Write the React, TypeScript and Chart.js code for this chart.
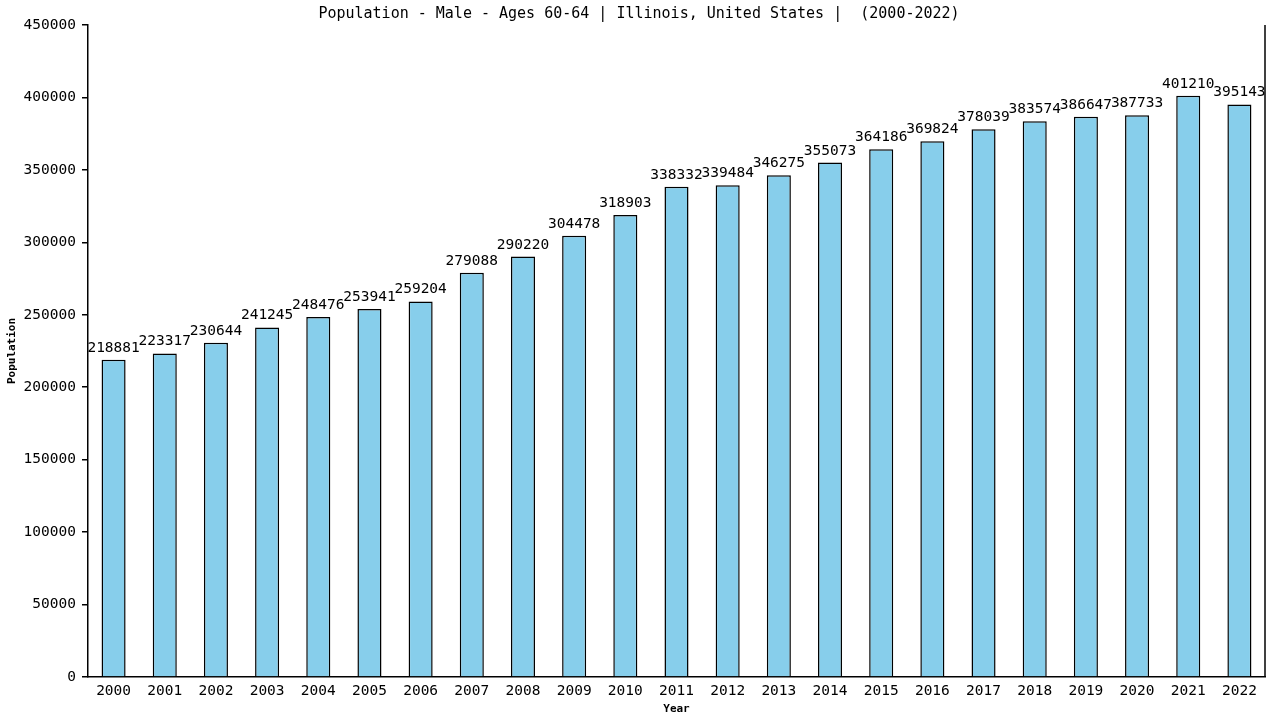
import React, { useEffect, useRef } from 'react';
import { Chart, registerables } from 'chart.js';

Chart.register(...registerables);

// data
const years: string[] = [
    '2000', '2001', '2002', '2003', '2004', '2005', '2006', '2007', '2008', '2009', '2010', '2011',
    '2012', '2013', '2014', '2015', '2016', '2017', '2018', '2019', '2020', '2021', '2022',
];
const population: number[] = [
    218881, 223317, 230644, 241245, 248476, 253941, 259204, 279088, 290220, 304478, 318903, 338332,
    339484, 346275, 355073, 364186, 369824, 378039, 383574, 386647, 387733, 401210, 395143,
];
const yMax = 450000;
const yStep = 50000;

const chartTitle = 'Population - Male - Ages 60-64 | Illinois, United States |  (2000-2022)';
const mono = "'DejaVu Sans Mono', monospace";

const App: React.FC = () => {
    const chartRef = useRef<HTMLCanvasElement | null>(null);

    useEffect(() => {
        document.body.style.margin = '0';
        const ctx = chartRef.current?.getContext('2d');
        if (!ctx) {
            return;
        }

        // title, right frame line and value labels
        const extras = {
            id: 'extras',
            afterDatasetsDraw(chart: any) {
                const c = chart.ctx;
                const area = chart.chartArea;
                c.save();
                c.strokeStyle = '#000';
                c.lineWidth = 1.5;
                c.beginPath();
                c.moveTo(area.right, area.top);
                c.lineTo(area.right, area.bottom);
                c.stroke();

                c.fillStyle = '#000';
                c.font = `14.5px ${mono}`;
                c.textAlign = 'center';
                c.textBaseline = 'alphabetic';
                const meta = chart.getDatasetMeta(0);
                meta.data.forEach((bar: any, i: number) => {
                    c.fillText(String(population[i]), bar.x, bar.y - 8);
                });

                c.font = `15px ${mono}`;
                c.fillText(chartTitle, 639, 18);
                c.restore();
            },
        };

        const myChart = new Chart(ctx, {
            type: 'bar',
            data: {
                labels: years,
                datasets: [
                    {
                        label: 'Population',
                        data: population,
                        backgroundColor: '#87CEEB',
                        borderColor: '#000000',
                        borderWidth: 1.5,
                        barPercentage: 0.47,
                        categoryPercentage: 1,
                    },
                ],
            },
            options: {
                responsive: false,
                animation: false,
                devicePixelRatio: 1,
                layout: {
                    padding: { top: 25, right: 15, left: 0, bottom: 0 },
                },
                plugins: {
                    legend: { display: false },
                    tooltip: { enabled: false },
                },
                scales: {
                    x: {
                        grid: { display: true, drawOnChartArea: false, drawTicks: false },
                        border: { display: true, color: '#000', width: 1.5 },
                        ticks: {
                            color: '#000',
                            padding: 6,
                            maxRotation: 0,
                            font: { family: mono, size: 14.5 },
                        },
                        title: {
                            display: true,
                            text: 'Year',
                            color: '#000',
                            padding: { top: 2, bottom: 4 },
                            font: { family: mono, size: 11, weight: 'bold' },
                        },
                        afterFit: (scale: any) => {
                            scale.height = 43;
                        },
                    },
                    y: {
                        min: 0,
                        max: yMax,
                        grid: { display: true, drawOnChartArea: false, drawTicks: true, tickLength: 6, color: '#000', lineWidth: 1.5 },
                        border: { display: true, color: '#000', width: 1.5 },
                        ticks: {
                            stepSize: yStep,
                            color: '#000',
                            padding: 6,
                            font: { family: mono, size: 14.5 },
                            callback: (value: any) => String(value),
                        },
                        title: {
                            display: true,
                            text: 'Population',
                            color: '#000',
                            padding: { top: 6, bottom: 4 },
                            font: { family: mono, size: 11, weight: 'bold' },
                        },
                        afterFit: (scale: any) => {
                            scale.width = 88;
                        },
                    },
                },
            },
            plugins: [extras],
        });

        return () => {
            myChart.destroy();
        };
    }, []);

    return (
        <div style={{ width: 1280, height: 720, background: '#fff' }}>
            <canvas ref={chartRef} width={1280} height={720} />
        </div>
    );
};

export default App;
